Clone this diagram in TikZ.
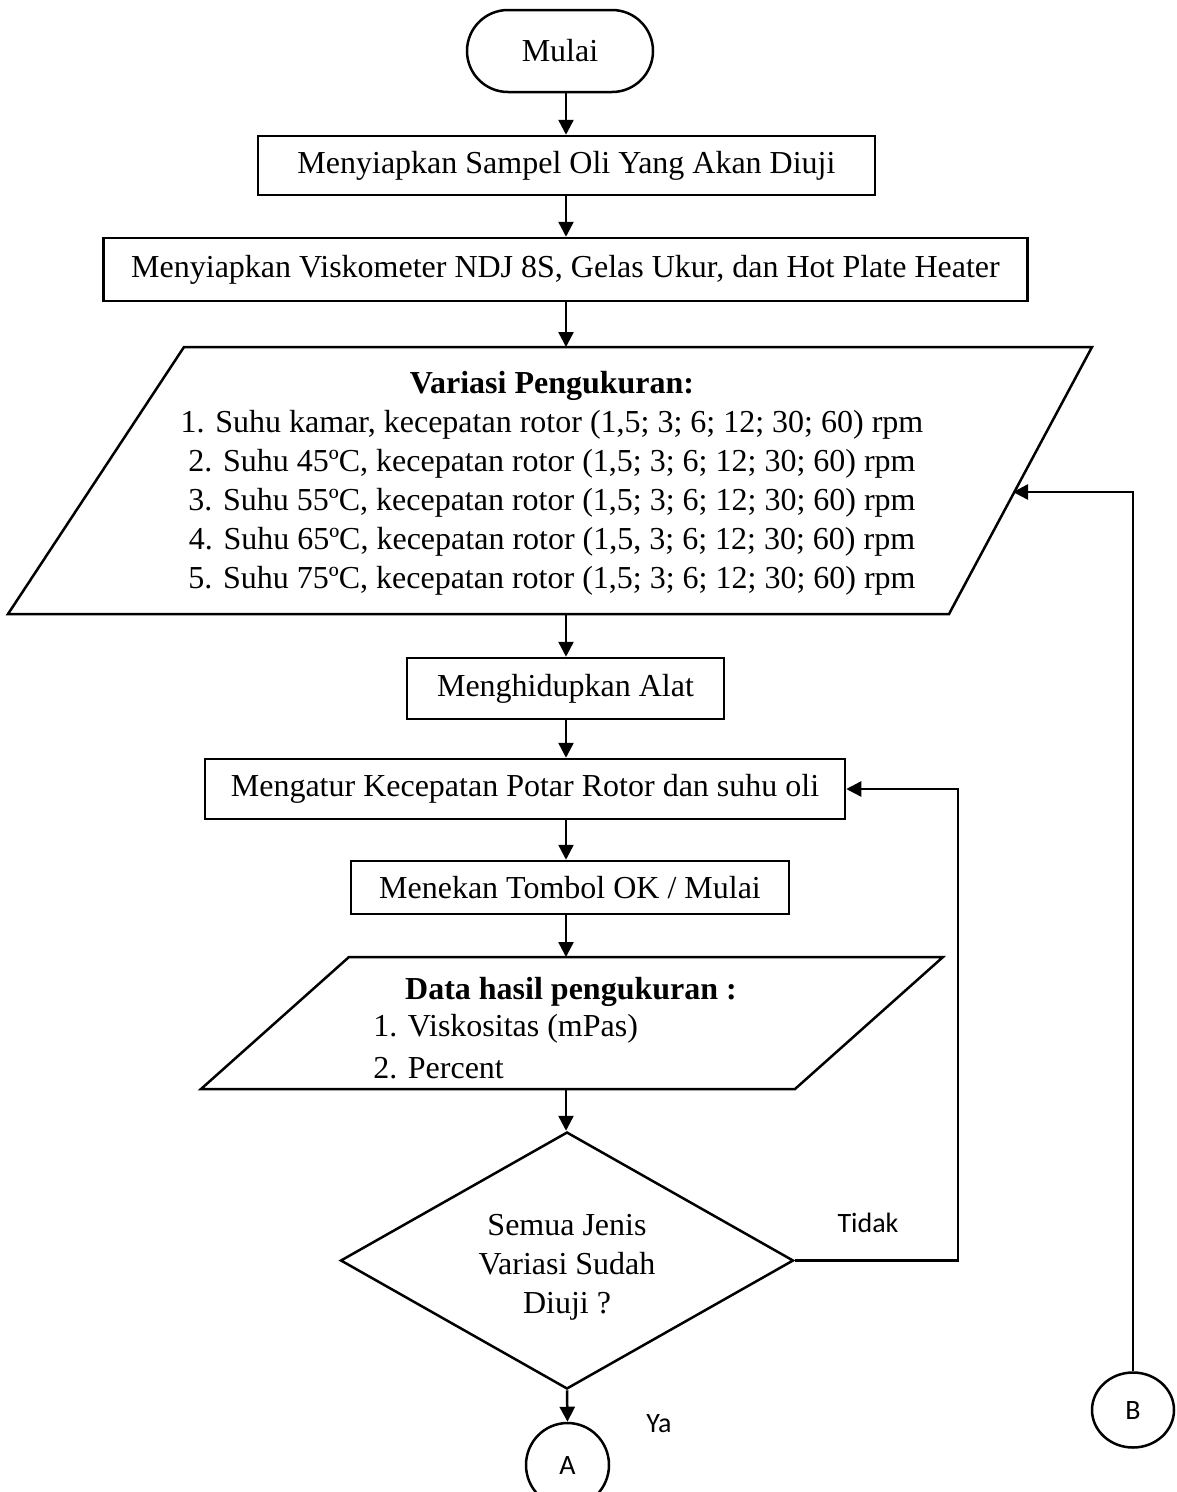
\documentclass[tikz,border=0pt]{standalone}
\usepackage{fontspec}
\setmainfont{Liberation Serif}
\newfontfamily\labelfont{Carlito}
\usetikzlibrary{arrows.meta,shapes.geometric}

\begin{document}
\begin{tikzpicture}[x=1pt,y=-1pt,
  line width=2.5pt,
  font=\fontsize{32}{39}\selectfont,
  arr/.style={-{Triangle[length=15pt,width=15pt]}},
  procbox/.style={draw,rectangle,inner sep=0pt,align=center},
  term/.style={draw,rectangle,rounded corners=41pt,inner sep=0pt},
  decbox/.style={draw,diamond,aspect=1.76,inner sep=0pt},
  conn/.style={draw,ellipse,inner sep=0pt,font=\labelfont\fontsize{28}{32}\selectfont},
  lbl/.style={font=\labelfont\fontsize{28}{32}\selectfont,inner sep=0pt}]
\useasboundingbox (0,0) rectangle (1176,1492);

% shared vertical axis of the main flow
\coordinate (spine) at (566,0);

% terminal and process boxes
\node[term,minimum width=186pt,minimum height=82pt] (start) at (560,51) {Mulai};
\node[procbox,minimum width=617pt,minimum height=59pt] (prep1) at (566.5,165.5)
  {Menyiapkan Sampel Oli Yang Akan Diuji};
\node[procbox,minimum width=924pt,minimum height=63pt] (prep2) at (565.5,269.5)
  {Menyiapkan Viskometer NDJ 8S, Gelas Ukur, dan Hot Plate Heater};

% input parallelogram: measurement variations
\coordinate (var-nw) at (184,347);
\coordinate (var-ne) at (1092,347);
\coordinate (var-se) at (949,614);
\coordinate (var-sw) at (8,614);
\draw (var-nw) -- (var-ne) -- (var-se) -- (var-sw) -- cycle;
\coordinate (var-top) at (566,347);
\coordinate (var-bot) at (566,614);
\coordinate (var-in) at (1013,492);
\node[align=center,inner sep=0pt] (vartext) at (552,483)
  {\textbf{Variasi Pengukuran:}\\
   1. Suhu kamar, kecepatan rotor (1,5; 3; 6; 12; 30; 60) rpm\\
   2. Suhu 45ºC, kecepatan rotor (1,5; 3; 6; 12; 30; 60) rpm\\
   3. Suhu 55ºC, kecepatan rotor (1,5; 3; 6; 12; 30; 60) rpm\\
   4. Suhu 65ºC, kecepatan rotor (1,5, 3; 6; 12; 30; 60) rpm\\
   5. Suhu 75ºC, kecepatan rotor (1,5; 3; 6; 12; 30; 60) rpm};

\node[procbox,minimum width=317pt,minimum height=61pt] (power) at (565.5,688.5)
  {Menghidupkan Alat};
\node[procbox,minimum width=640pt,minimum height=60pt] (setup) at (525,789)
  {Mengatur Kecepatan Potar Rotor dan suhu oli};
\node[procbox,minimum width=438pt,minimum height=53pt] (press) at (570,887.5)
  {Menekan Tombol OK / Mulai};

% output parallelogram: measurement results
\coordinate (res-nw) at (349,957);
\coordinate (res-ne) at (943,957);
\coordinate (res-se) at (795,1089);
\coordinate (res-sw) at (201,1089);
\draw (res-nw) -- (res-ne) -- (res-se) -- (res-sw) -- cycle;
\coordinate (res-top) at (566,957);
\coordinate (res-bot) at (566,1089);
\node[inner sep=0pt] (restitle) at (571,992) {\textbf{Data hasil pengukuran :}};
\node[anchor=west,inner sep=0pt] (resitem1) at (372,1029) {1. Viskositas (mPas)};
\node[anchor=west,inner sep=0pt] (resitem2) at (372,1068) {2. Percent};

% decision
\node[decbox,minimum width=453pt,minimum height=257pt] (check) at (567,1260.5) {};
\node[align=center,inner sep=0pt] (checktext) at (567,1267)
  {Semua Jenis\\Variasi Sudah\\Diuji ?};

% off-page connectors
\node[conn,minimum width=83pt,minimum height=84pt] (conA) at (567.5,1465) {A};
\node[conn,minimum width=82pt,minimum height=75pt] (conB) at (1133,1410) {B};

% branch labels
\node[lbl] (tidak) at (868,1223) {Tidak};
\node[lbl] (ya) at (659,1424) {Ya};

% main flow
\draw[arr] (spine |- start.south) -- (spine |- prep1.north);
\draw[arr] (spine |- prep1.south) -- (spine |- prep2.north);
\draw[arr] (spine |- prep2.south) -- (var-top);
\draw[arr] (var-bot) -- (spine |- power.north);
\draw[arr] (spine |- power.south) -- (spine |- setup.north);
\draw[arr] (spine |- setup.south) -- (spine |- press.north);
\draw[arr] (spine |- press.south) -- (res-top);
\draw[arr] (res-bot) -- (spine |- check.north);
\draw[arr] (check.south) -- (conA.north);

% loop back when not all variations are done
\coordinate (loopturn) at (958,1260.5);
\draw[arr] (check.east) -- (loopturn) |- (setup.east);

% return from connector B
\draw[arr] (conB.north) |- (var-in);
\end{tikzpicture}
\end{document}
